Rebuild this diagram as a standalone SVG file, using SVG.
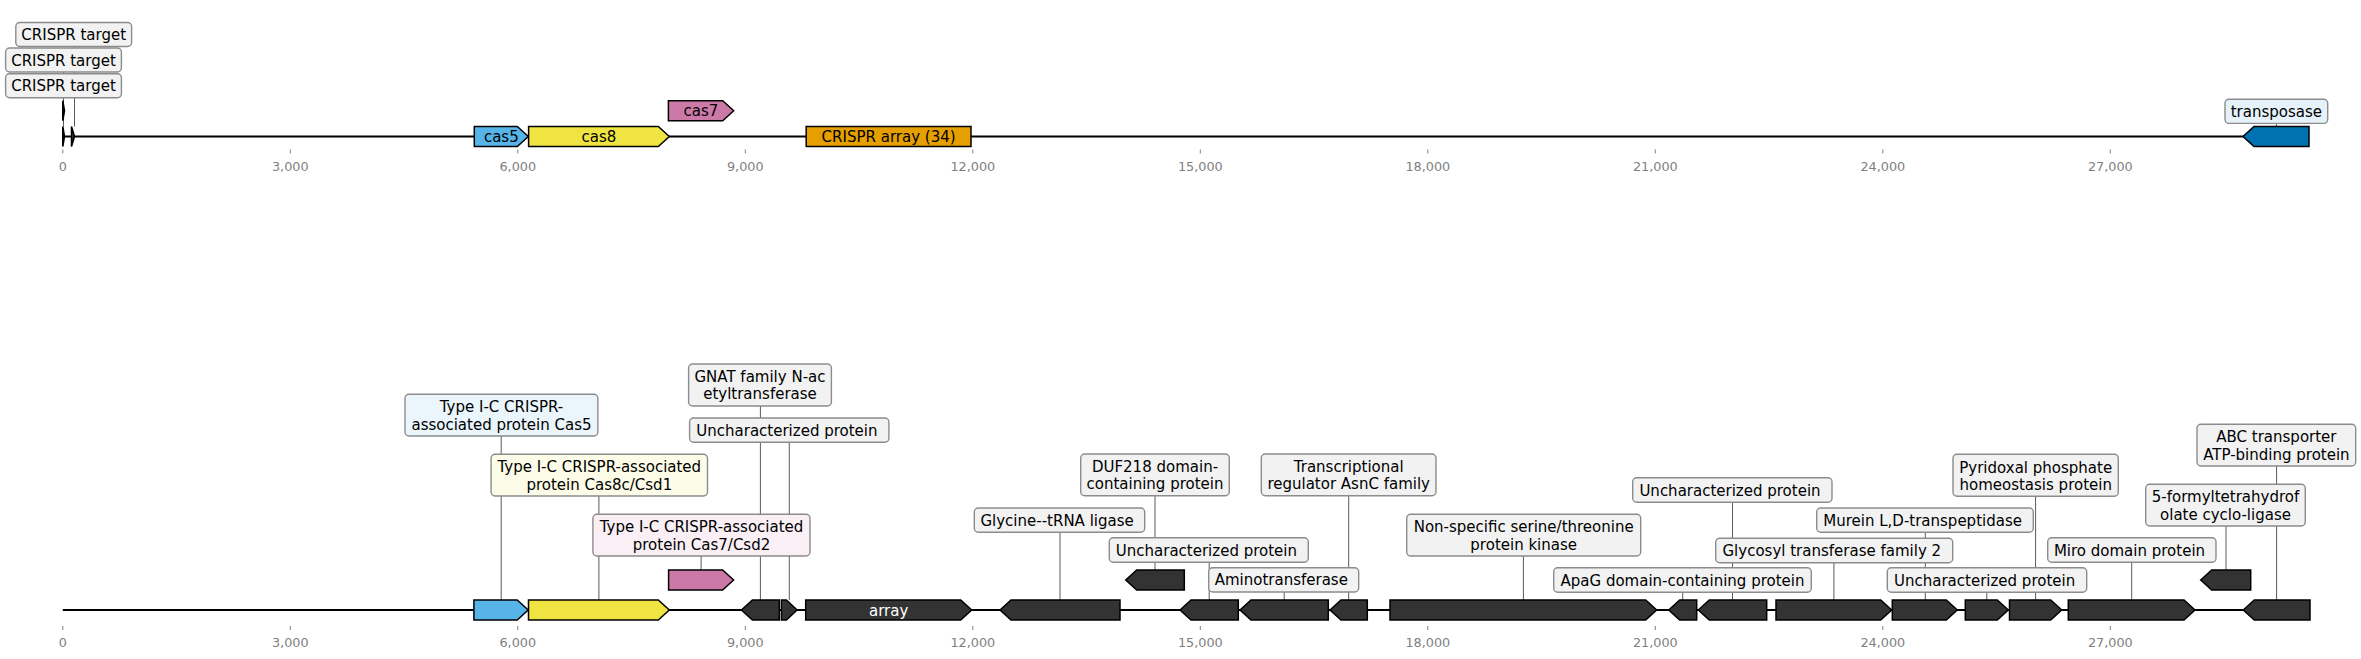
<svg xmlns="http://www.w3.org/2000/svg" width="2361" height="659" viewBox="0 0 2361 659">
<style>
text{font-family:"DejaVu Sans","Liberation Sans",sans-serif}
.lbl{font-size:15px;fill:#000;text-anchor:middle}
.box{stroke:#8c8c8c;stroke-width:1.4;fill:#f2f2f2}
.gene{stroke:#000;stroke-width:1.5;stroke-linejoin:miter}
.dark{fill:#333333}
.conn{stroke:#5a5a5a;stroke-width:1;fill:none}
.axis{stroke:#000;stroke-width:2.2}
.tick{stroke:#808080;stroke-width:1}
.tl{font-size:12.8px;fill:#808080;text-anchor:middle}
.inl{font-size:15px;text-anchor:middle}
</style>
<rect width="2361" height="659" fill="#ffffff"/>
<!-- TOP PANEL -->
<g id="top-axis">
<line class="axis" x1="62.8" y1="136.5" x2="2309" y2="136.5"/>
<g class="tick">
<line x1="62.8" y1="149.5" x2="62.8" y2="153.5"/><line x1="290.3" y1="149.5" x2="290.3" y2="153.5"/><line x1="517.8" y1="149.5" x2="517.8" y2="153.5"/><line x1="745.3" y1="149.5" x2="745.3" y2="153.5"/><line x1="972.8" y1="149.5" x2="972.8" y2="153.5"/><line x1="1200.3" y1="149.5" x2="1200.3" y2="153.5"/><line x1="1427.8" y1="149.5" x2="1427.8" y2="153.5"/><line x1="1655.3" y1="149.5" x2="1655.3" y2="153.5"/><line x1="1882.8" y1="149.5" x2="1882.8" y2="153.5"/><line x1="2110.3" y1="149.5" x2="2110.3" y2="153.5"/>
</g>
<g class="tl">
<text x="62.8" y="170.5">0</text><text x="290.3" y="170.5">3,000</text><text x="517.8" y="170.5">6,000</text><text x="745.3" y="170.5">9,000</text><text x="972.8" y="170.5">12,000</text><text x="1200.3" y="170.5">15,000</text><text x="1427.8" y="170.5">18,000</text><text x="1655.3" y="170.5">21,000</text><text x="1882.8" y="170.5">24,000</text><text x="2110.3" y="170.5">27,000</text>
</g>
</g>
<g id="top-connectors">
<line class="conn" x1="74.5" y1="46.5" x2="74.5" y2="126.5"/>
<line class="conn" x1="63.5" y1="72" x2="63.5" y2="126.5"/>
<line class="conn" x1="63.5" y1="97.8" x2="63.5" y2="100.7"/>
<line class="conn" x1="2276.4" y1="123.4" x2="2276.4" y2="126.5"/>
</g>
<g id="top-crispr-target-1"><polygon class="gene dark" points="62.8,100.7 64.5,110.7 62.8,120.7"/></g>
<g id="top-crispr-target-2"><polygon class="gene dark" points="62.8,126.5 64.5,136.5 62.8,146.5"/></g>
<g id="top-crispr-target-3"><polygon class="gene dark" points="71.5,126.5 74.5,136.5 71.5,146.5"/></g>
<g id="top-cas5"><polygon class="gene" fill="#56B4E9" points="474.3,126.5 517.3,126.5 528.3,136.5 517.3,146.5 474.3,146.5"/><text class="inl" x="501.3" y="142">cas5</text></g>
<g id="top-cas8"><polygon class="gene" fill="#F0E442" points="528.6,126.5 658.3,126.5 669.3,136.5 658.3,146.5 528.6,146.5"/><text class="inl" x="598.9" y="142">cas8</text></g>
<g id="top-cas7"><polygon class="gene" fill="#CC79A7" points="668.4,100.7 722.7,100.7 733.7,110.7 722.7,120.7 668.4,120.7"/><text class="inl" x="701" y="116.2">cas7</text></g>
<g id="top-crispr-array"><rect class="gene" fill="#E69F00" x="806.2" y="126.5" width="164.8" height="20"/><text class="inl" x="888.6" y="142">CRISPR array (34)</text></g>
<g id="top-transposase"><polygon class="gene" fill="#0072B2" points="2243,136.5 2254,126.5 2309,126.5 2309,146.5 2254,146.5"/></g>
<g id="top-label-crispr-target-a"><rect class="box" x="15.8" y="22.5" width="115.8" height="24" rx="4"/><text class="lbl" x="73.7" y="40">CRISPR target</text></g>
<g id="top-label-crispr-target-b"><rect class="box" x="5.6" y="48" width="115.8" height="24" rx="4"/><text class="lbl" x="63.5" y="65.5">CRISPR target</text></g>
<g id="top-label-crispr-target-c"><rect class="box" x="5.6" y="73.8" width="115.8" height="24" rx="4"/><text class="lbl" x="63.5" y="91.3">CRISPR target</text></g>
<g id="top-label-transposase"><rect class="box" style="fill:#E6F2F9" x="2225" y="99.2" width="102.7" height="24.2" rx="4"/><text class="lbl" x="2276.4" y="116.8">transposase</text></g>

<!-- BOTTOM PANEL -->
<g id="bottom-axis">
<line class="axis" x1="62.8" y1="610" x2="2310" y2="610"/>
<g class="tick">
<line x1="62.8" y1="626" x2="62.8" y2="630"/><line x1="290.3" y1="626" x2="290.3" y2="630"/><line x1="517.8" y1="626" x2="517.8" y2="630"/><line x1="745.3" y1="626" x2="745.3" y2="630"/><line x1="972.8" y1="626" x2="972.8" y2="630"/><line x1="1200.3" y1="626" x2="1200.3" y2="630"/><line x1="1427.8" y1="626" x2="1427.8" y2="630"/><line x1="1655.3" y1="626" x2="1655.3" y2="630"/><line x1="1882.8" y1="626" x2="1882.8" y2="630"/><line x1="2110.3" y1="626" x2="2110.3" y2="630"/>
</g>
<g class="tl">
<text x="62.8" y="646.5">0</text><text x="290.3" y="646.5">3,000</text><text x="517.8" y="646.5">6,000</text><text x="745.3" y="646.5">9,000</text><text x="972.8" y="646.5">12,000</text><text x="1200.3" y="646.5">15,000</text><text x="1427.8" y="646.5">18,000</text><text x="1655.3" y="646.5">21,000</text><text x="1882.8" y="646.5">24,000</text><text x="2110.3" y="646.5">27,000</text>
</g>
</g>
<g id="bottom-connectors" class="conn">
<line x1="501.2" y1="436" x2="501.2" y2="600"/>
<line x1="598.9" y1="496" x2="598.9" y2="600"/>
<line x1="701.1" y1="556" x2="701.1" y2="570"/>
<line x1="760.4" y1="406" x2="760.4" y2="600"/>
<line x1="789.3" y1="442.3" x2="789.3" y2="600"/>
<line x1="1060" y1="532.3" x2="1060" y2="600"/>
<line x1="1155" y1="495.7" x2="1155" y2="570"/>
<line x1="1209.2" y1="562.3" x2="1209.2" y2="600"/>
<line x1="1284.2" y1="592" x2="1284.2" y2="600"/>
<line x1="1348.7" y1="495.7" x2="1348.7" y2="600"/>
<line x1="1523.4" y1="556" x2="1523.4" y2="600"/>
<line x1="1682.7" y1="592.3" x2="1682.7" y2="600"/>
<line x1="1732.5" y1="502.3" x2="1732.5" y2="600"/>
<line x1="1833.9" y1="562.7" x2="1833.9" y2="600"/>
<line x1="1925.3" y1="532.3" x2="1925.3" y2="600"/>
<line x1="1986.8" y1="592.3" x2="1986.8" y2="600"/>
<line x1="2035.6" y1="496.3" x2="2035.6" y2="600"/>
<line x1="2131.7" y1="562.3" x2="2131.7" y2="600"/>
<line x1="2226" y1="526" x2="2226" y2="570"/>
<line x1="2276.6" y1="466" x2="2276.6" y2="600"/>
</g>
<g id="bottom-cas5"><polygon class="gene" fill="#56B4E9" points="473.9,600 517.2,600 528.2,610 517.2,620 473.9,620"/></g>
<g id="bottom-cas8"><polygon class="gene" fill="#F0E442" points="528.5,600 658.3,600 669.3,610 658.3,620 528.5,620"/></g>
<g id="bottom-cas7"><polygon class="gene" fill="#CC79A7" points="668.6,570 722.6,570 733.6,580 722.6,590 668.6,590"/></g>
<g id="bottom-gnat"><polygon class="gene dark" points="741.4,610 752.4,600 779.3,600 779.3,620 752.4,620"/></g>
<g id="bottom-unchar-1"><polygon class="gene dark" points="781.4,600 786.4,600 797.1,610 786.4,620 781.4,620"/></g>
<g id="bottom-array"><polygon class="gene dark" points="805.7,600 960.7,600 971.7,610 960.7,620 805.7,620"/><text class="inl" fill="#ffffff" x="888.7" y="615.5">array</text></g>
<g id="bottom-glycine"><polygon class="gene dark" points="1000,610 1011,600 1120,600 1120,620 1011,620"/></g>
<g id="bottom-duf218"><polygon class="gene dark" points="1125.7,580 1136.7,570 1184.3,570 1184.3,590 1136.7,590"/></g>
<g id="bottom-unchar-2"><polygon class="gene dark" points="1180,610 1191,600 1238.3,600 1238.3,620 1191,620"/></g>
<g id="bottom-aminotransferase"><polygon class="gene dark" points="1240,610 1251,600 1328.3,600 1328.3,620 1251,620"/></g>
<g id="bottom-asnc"><polygon class="gene dark" points="1330,610 1341,600 1367.3,600 1367.3,620 1341,620"/></g>
<g id="bottom-kinase"><polygon class="gene dark" points="1390,600 1645.7,600 1656.7,610 1645.7,620 1390,620"/></g>
<g id="bottom-apag"><polygon class="gene dark" points="1668.7,610 1679.7,600 1696.7,600 1696.7,620 1679.7,620"/></g>
<g id="bottom-unchar-3"><polygon class="gene dark" points="1698.3,610 1709.3,600 1766.7,600 1766.7,620 1709.3,620"/></g>
<g id="bottom-glycosyl"><polygon class="gene dark" points="1776,600 1880.7,600 1891.7,610 1880.7,620 1776,620"/></g>
<g id="bottom-murein"><polygon class="gene dark" points="1892.3,600 1946.3,600 1957.3,610 1946.3,620 1892.3,620"/></g>
<g id="bottom-unchar-4"><polygon class="gene dark" points="1965.3,600 1997.3,600 2008.3,610 1997.3,620 1965.3,620"/></g>
<g id="bottom-pyridoxal"><polygon class="gene dark" points="2009.5,600 2050.7,600 2061.7,610 2050.7,620 2009.5,620"/></g>
<g id="bottom-miro"><polygon class="gene dark" points="2068.3,600 2184,600 2195,610 2184,620 2068.3,620"/></g>
<g id="bottom-formyl"><polygon class="gene dark" points="2200.7,580 2211.7,570 2250.7,570 2250.7,590 2211.7,590"/></g>
<g id="bottom-abc"><polygon class="gene dark" points="2243.3,610 2254.3,600 2310,600 2310,620 2254.3,620"/></g>

<g id="label-cas5"><rect class="box" style="fill:#EAF5FC" x="405" y="394.3" width="192.9" height="41.7" rx="4"/><text class="lbl" x="501.5" y="412.4">Type I-C CRISPR-<tspan x="501.5" dy="17.2">associated protein Cas5</tspan></text></g>
<g id="label-cas8"><rect class="box" style="fill:#FDFCE8" x="491.1" y="454.3" width="216.4" height="41.7" rx="4"/><text class="lbl" x="599.3" y="472.4">Type I-C CRISPR-associated<tspan x="599.3" dy="17.2">protein Cas8c/Csd1</tspan></text></g>
<g id="label-cas7"><rect class="box" style="fill:#F9EFF5" x="592.9" y="514.3" width="217.1" height="41.7" rx="4"/><text class="lbl" x="701.5" y="532.4">Type I-C CRISPR-associated<tspan x="701.5" dy="17.2">protein Cas7/Csd2</tspan></text></g>
<g id="label-gnat"><rect class="box" x="688.6" y="364" width="142.8" height="42" rx="4"/><text class="lbl" x="760" y="382.2">GNAT family N-ac<tspan x="760" dy="17.2">etyltransferase</tspan></text></g>
<g id="label-unchar-1"><rect class="box" x="689.6" y="418" width="199.3" height="24.3" rx="4"/><text class="lbl" x="786.9" y="435.7">Uncharacterized protein</text></g>
<g id="label-glycine"><rect class="box" x="974.3" y="508" width="170.4" height="24.3" rx="4"/><text class="lbl" x="1057.1" y="525.7">Glycine--tRNA ligase</text></g>
<g id="label-duf218"><rect class="box" x="1080.7" y="454" width="148.6" height="41.7" rx="4"/><text class="lbl" x="1155" y="472.1">DUF218 domain-<tspan x="1155" dy="17.2">containing protein</tspan></text></g>
<g id="label-unchar-2"><rect class="box" x="1109.3" y="537.7" width="199" height="24.6" rx="4"/><text class="lbl" x="1206.4" y="555.5">Uncharacterized protein</text></g>
<g id="label-aminotransferase"><rect class="box" x="1208.7" y="567.7" width="150" height="24.3" rx="4"/><text class="lbl" x="1281.3" y="585.4">Aminotransferase</text></g>
<g id="label-asnc"><rect class="box" x="1261.3" y="454" width="174.7" height="41.7" rx="4"/><text class="lbl" x="1348.7" y="472.1">Transcriptional<tspan x="1348.7" dy="17.2">regulator AsnC family</tspan></text></g>
<g id="label-kinase"><rect class="box" x="1406.7" y="514.3" width="234" height="41.7" rx="4"/><text class="lbl" x="1523.7" y="532.4">Non-specific serine/threonine<tspan x="1523.7" dy="17.2">protein kinase</tspan></text></g>
<g id="label-apag"><rect class="box" x="1553.7" y="567.7" width="257.6" height="24.6" rx="4"/><text class="lbl" x="1682.5" y="585.5">ApaG domain-containing protein</text></g>
<g id="label-unchar-3"><rect class="box" x="1632.7" y="477.7" width="199.3" height="24.6" rx="4"/><text class="lbl" x="1730" y="495.5">Uncharacterized protein</text></g>
<g id="label-glycosyl"><rect class="box" x="1715.7" y="538.3" width="237" height="24.4" rx="4"/><text class="lbl" x="1831.8" y="556">Glycosyl transferase family 2</text></g>
<g id="label-murein"><rect class="box" x="1816.7" y="508" width="216.6" height="24.3" rx="4"/><text class="lbl" x="1922.6" y="525.7">Murein L,D-transpeptidase</text></g>
<g id="label-unchar-4"><rect class="box" x="1887.3" y="567.7" width="199.4" height="24.6" rx="4"/><text class="lbl" x="1984.6" y="585.5">Uncharacterized protein</text></g>
<g id="label-pyridoxal"><rect class="box" x="1953" y="454.3" width="165.3" height="42" rx="4"/><text class="lbl" x="2035.7" y="472.5">Pyridoxal phosphate<tspan x="2035.7" dy="17.2">homeostasis protein</tspan></text></g>
<g id="label-miro"><rect class="box" x="2047.7" y="537.7" width="168.3" height="24.6" rx="4"/><text class="lbl" x="2129.5" y="555.5">Miro domain protein</text></g>
<g id="label-formyl"><rect class="box" x="2145.7" y="484.3" width="159.6" height="41.7" rx="4"/><text class="lbl" x="2225.5" y="502.4">5-formyltetrahydrof<tspan x="2225.5" dy="17.2">olate cyclo-ligase</tspan></text></g>
<g id="label-abc"><rect class="box" x="2197" y="424.3" width="158.7" height="41.7" rx="4"/><text class="lbl" x="2276.4" y="442.4">ABC transporter<tspan x="2276.4" dy="17.2">ATP-binding protein</tspan></text></g>
</svg>
